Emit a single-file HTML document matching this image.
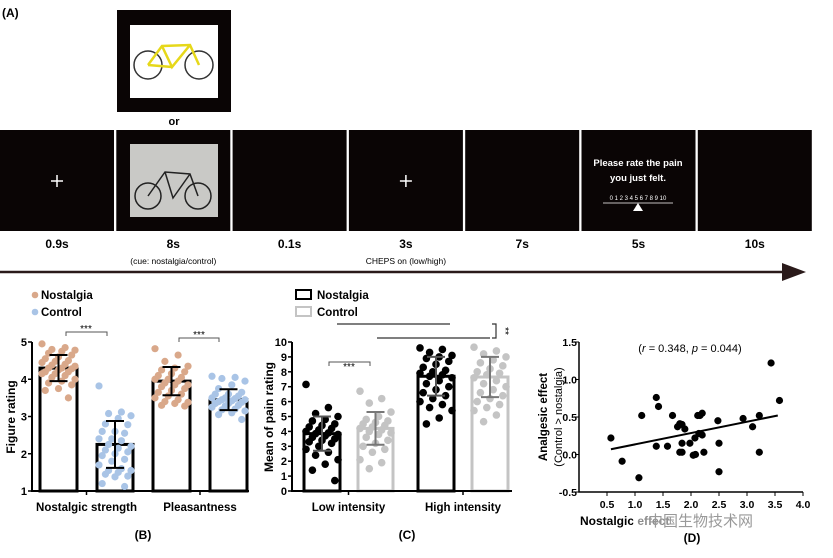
<!DOCTYPE html>
<html><head><meta charset="utf-8"><style>
body{margin:0;background:#fff;}
svg{display:block;font-family:"Liberation Sans","Noto Sans CJK SC",sans-serif;}
</style></head><body>
<svg width="833" height="558" viewBox="0 0 833 558">
<g id="panelA">
<text x="2" y="17" font-size="12" font-weight="bold">(A)</text>
<rect x="117" y="10" width="114" height="102" fill="#0a0505"/>
<rect x="130" y="25" width="88" height="73" fill="#fff"/>
<g stroke="#333" stroke-width="1.5" fill="none"><circle cx="148" cy="65" r="14"/><circle cx="199" cy="65" r="14"/></g>
<g stroke="#e6d81a" stroke-width="2.5" fill="none"><path d="M148 65 L162 46 L190 45 L199 65 M162 46 L172 67 L190 45 M172 67 L148 65"/></g>
<text x="174" y="125" font-size="11" font-weight="bold" text-anchor="middle">or</text>
<g id="frames"></g>
<g id="arrow"><line x1="0" y1="272" x2="790" y2="272" stroke="#2a1a1a" stroke-width="2.5"/><path d="M782 263 L806 272 L782 281 Z" fill="#2a1a1a"/></g>
</g>
<g id="panelB"></g>
<g id="panelC"></g>
<g id="panelD"></g>
</svg>
<script>
const NS="http://www.w3.org/2000/svg";
function mk(p,t,a,txt){const e=document.createElementNS(NS,t);for(const k in a)e.setAttribute(k,a[k]);if(txt!==undefined)e.textContent=txt;p.appendChild(e);return e;}
const frameTimes=["0.9s","8s","0.1s","3s","7s","5s","10s"];
const frameSubs=["","(cue: nostalgia/control)","","CHEPS on (low/high)","","",""];
const fr=document.getElementById('frames');
frameTimes.forEach((t,i)=>{
 const x=i*116.3;
 const r=mk(fr,'rect',{x:x,y:130,width:114,height:101,fill:'#0a0505'});
 
 
 const tx=mk(fr,'text',{x:x+57,y:248,'font-size':12,'font-weight':'bold','text-anchor':'middle'},t);
 
 
 if(frameSubs[i]){const s=mk(fr,'text',{x:x+57,y:264,'font-size':8.5,'text-anchor':'middle'},frameSubs[i]);
 
 }
});
[0,3].forEach(i=>{const x=i*116.3+57;mk(fr,'path',{d:`M${x-6} 181 H${x+6} M${x} 175 V187`,stroke:'#fff','stroke-width':1.5});});
mk(fr,'rect',{x:130,y:144,width:88,height:73,fill:'#c9c9c6'});
mk(fr,'g',{stroke:'#222','stroke-width':1.5,fill:'none'}).innerHTML='<circle cx="148" cy="196" r="13"/><circle cx="198" cy="196" r="13"/><path d="M148 196 L165 172 L190 174 L198 196 M165 172 L173 198 L190 174"/>';
mk(fr,'text',{x:638,y:166,'font-size':9.5,'font-weight':'bold',fill:'#fff','text-anchor':'middle'},'Please rate the pain');
mk(fr,'text',{x:638,y:181,'font-size':9.5,'font-weight':'bold',fill:'#fff','text-anchor':'middle'},'you just felt.');
mk(fr,'text',{x:638,y:200,'font-size':6,fill:'#fff','text-anchor':'middle'},'0 1 2 3 4 5 6 7 8 9 10');
mk(fr,'line',{x1:603,y1:203,x2:673,y2:203,stroke:'#fff','stroke-width':0.8});
mk(fr,'path',{d:'M638 203 L643 211 L633 211 Z',fill:'#fff'});

const bCats=["Nostalgic strength","Pleasantness"];
const bMeans=[4.3,2.25,3.95,3.45];
const bSD=[0.35,0.63,0.38,0.28];
const bPts0=[4.95,4.85,4.8,4.78,4.75,4.7,4.65,4.6,4.55,4.5,4.48,4.45,4.4,4.38,4.35,4.3,4.3,4.28,4.25,4.2,4.2,4.15,4.15,4.1,4.05,4.0,3.95,3.9,3.85,3.75,3.7,3.5];
const bPts1=[3.82,3.12,3.08,3.02,2.95,2.8,2.78,2.6,2.6,2.55,2.4,2.4,2.35,2.25,2.2,2.15,2.1,2.05,2.0,1.95,1.85,1.8,1.7,1.6,1.55,1.55,1.5,1.45,1.4,1.38,1.2,1.12];
const bPts2=[4.82,4.65,4.48,4.35,4.3,4.25,4.2,4.15,4.1,4.05,4.0,4.0,3.95,3.9,3.85,3.85,3.8,3.75,3.7,3.65,3.6,3.55,3.5,3.45,3.4,3.38,3.35,3.3,3.28];
const bPts3=[4.08,4.05,4.02,3.95,3.85,3.75,3.65,3.6,3.6,3.55,3.5,3.5,3.48,3.45,3.45,3.42,3.4,3.38,3.35,3.35,3.3,3.28,3.25,3.2,3.18,3.15,3.1,3.05,2.92];
const bYTicks=[1,2,3,4,5];
const cCats=["Low intensity","High intensity"];
const cMeans=[3.85,4.2,7.7,7.65];
const cSD=[1.15,1.1,1.3,1.35];
const cPts0=[7.15,5.6,5.2,5.0,4.8,4.7,4.5,4.4,4.3,4.2,4.1,4.0,3.9,3.85,3.8,3.7,3.6,3.5,3.4,3.3,3.2,3.0,2.8,2.6,2.4,2.1,1.8,1.4,0.7];
const cPts1=[6.7,6.2,5.9,5.3,5.0,4.8,4.7,4.6,4.5,4.4,4.3,4.2,4.1,4.0,3.9,3.8,3.6,3.4,3.2,3.0,2.8,2.6,2.1,1.9,1.5];
const cPts2=[9.6,9.5,9.3,9.1,9.0,8.9,8.7,8.5,8.3,8.1,8.0,7.9,7.8,7.7,7.6,7.4,7.2,7.0,6.8,6.6,6.4,6.2,6.0,5.8,5.6,5.4,4.9,4.5];
const cPts3=[9.65,9.4,9.2,9.0,8.8,8.6,8.4,8.2,8.0,7.9,7.8,7.6,7.4,7.2,7.0,6.8,6.6,6.4,6.2,6.0,5.8,5.6,5.4,5.1,4.65];
const cYTicks=[0,1,2,3,4,5,6,7,8,9,10];

function barPanel(g,o){
 const y=v=>o.y0-(v-o.vmin)/(o.vmax-o.vmin)*(o.y0-o.y1);
 o.pts.forEach((pts,i)=>{
  const [bx,bw]=o.bars[i];const cx=bx+bw/2;
  const rb=mk(g,'rect',{x:bx,y:y(o.means[i]),width:bw,height:o.y0-y(o.means[i]),fill:'#fff',stroke:o.barStroke[i],'stroke-width':3});
  
  
  pts.forEach((v,j)=>{
   const off=((j*7)%11-5)/5*(bw/2-2);
   const c=mk(g,'circle',{cx:cx+off,cy:y(v),r:o.r,fill:o.dotFill[i]});
   
   
  });
  const hi=y(o.means[i]+o.sd[i]),lo=y(o.means[i]-o.sd[i]);
  const eb=mk(g,'path',{d:`M${cx} ${hi} V${lo} M${cx-9} ${hi} H${cx+9} M${cx-9} ${lo} H${cx+9}`,stroke:o.errStroke[i],'stroke-width':2,fill:'none'});
  
  
 });
 mk(g,'path',{d:`M${o.ax} ${o.y1} V${o.y0} H${o.axEnd}`,stroke:'#000','stroke-width':2,fill:'none'});
 o.ticks.forEach(t=>{mk(g,'line',{x1:o.ax-4,x2:o.ax,y1:y(t),y2:y(t),stroke:'#000','stroke-width':1.5});
  const tl=mk(g,'text',{x:o.ax-5,y:y(t)+4,'font-size':11,'font-weight':'bold','text-anchor':'end'},t);
  
  });
 o.cats.forEach((c,k)=>{const cx=(o.bars[2*k][0]+o.bars[2*k+1][0]+o.bars[2*k+1][1])/2;
  mk(g,'line',{x1:cx,x2:cx,y1:o.y0,y2:o.y0+4,stroke:'#000','stroke-width':1.5});
  const tl=mk(g,'text',{x:cx,y:o.y0+20,'font-size':11.5,'font-weight':'bold','text-anchor':'middle'},c);
  
  });
 return y;
}
const gB=document.getElementById('panelB');
barPanel(gB,{y0:491,y1:342,vmin:1,vmax:5,ax:32,axEnd:249,bars:[[40,37],[97,36],[153,37],[210,37]],means:bMeans,sd:bSD,pts:[bPts0,bPts1,bPts2,bPts3],
 barStroke:['#000','#000','#000','#000'],dotFill:['#d9a88a','#a9c4e6','#d9a88a','#a9c4e6'],errStroke:['#000','#000','#000','#000'],r:3.6,ticks:bYTicks,cats:bCats});
mk(gB,'text',{x:15,y:417,'font-size':12,'font-weight':'bold','text-anchor':'middle',transform:'rotate(-90 15 417)'},'Figure rating');
mk(gB,'path',{d:'M66 336 V332 H107 V336 M179 342 V338 H219 V342',stroke:'#555','stroke-width':1,fill:'none'});
mk(gB,'text',{x:86,y:332,'font-size':10,'text-anchor':'middle'},'***');
mk(gB,'text',{x:199,y:338,'font-size':10,'text-anchor':'middle'},'***');
mk(gB,'circle',{cx:35,cy:295,r:3.3,fill:'#d9a88a'});mk(gB,'circle',{cx:35,cy:312,r:3.3,fill:'#a9c4e6'});
mk(gB,'text',{x:41,y:299,'font-size':11.5,'font-weight':'bold'},'Nostalgia');
mk(gB,'text',{x:41,y:316,'font-size':11.5,'font-weight':'bold'},'Control');
mk(gB,'text',{x:143,y:539,'font-size':12,'font-weight':'bold','text-anchor':'middle'},'(B)');

const gC=document.getElementById('panelC');
barPanel(gC,{y0:491,y1:342,vmin:0,vmax:10,ax:292,axEnd:512,bars:[[304,36],[358,35],[418,36],[472,36]],means:cMeans,sd:cSD,pts:[cPts0,cPts1,cPts2,cPts3],
 barStroke:['#000','#c4c4c4','#000','#c4c4c4'],dotFill:['#000','#c4c4c4','#000','#c4c4c4'],errStroke:['#555','#777','#555','#777'],r:3.8,ticks:cYTicks,cats:cCats});
mk(gC,'text',{x:273,y:417,'font-size':12,'font-weight':'bold','text-anchor':'middle',transform:'rotate(-90 273 417)'},'Mean of pain rating');
mk(gC,'path',{d:'M329 366 V362 H370 V366',stroke:'#555','stroke-width':1,fill:'none'});
mk(gC,'text',{x:349,y:370,'font-size':10,'text-anchor':'middle'},'***');
mk(gC,'path',{d:'M337 324 H450 M377 338 H490 M492 324 H496 V338 H492',stroke:'#333','stroke-width':1.2,fill:'none'});
mk(gC,'text',{x:502,y:331,'font-size':10,'text-anchor':'middle',transform:'rotate(90 502 331)'},'**');
mk(gC,'rect',{x:296,y:290,width:15,height:9,fill:'none',stroke:'#000','stroke-width':2});
mk(gC,'rect',{x:296,y:307,width:15,height:9,fill:'none',stroke:'#c4c4c4','stroke-width':2});
mk(gC,'text',{x:317,y:299,'font-size':11.5,'font-weight':'bold'},'Nostalgia');
mk(gC,'text',{x:317,y:316,'font-size':11.5,'font-weight':'bold'},'Control');
mk(gC,'text',{x:407,y:539,'font-size':12,'font-weight':'bold','text-anchor':'middle'},'(C)');

const dX=[0.57,0.77,1.07,1.12,1.38,1.42,1.38,1.58,1.67,1.76,1.8,1.84,1.8,1.84,1.84,1.89,1.98,2.04,2.08,2.07,2.12,2.16,2.2,2.14,2.2,2.23,2.48,2.5,2.5,2.93,3.1,3.22,3.22,3.43,3.58];
const dY=[0.22,-0.09,-0.31,0.52,0.76,0.64,0.11,0.11,0.52,0.37,0.41,0.4,0.03,0.03,0.15,0.34,0.15,-0.01,0,0.22,0.52,0.52,0.55,0.28,0.26,0.03,0.45,0.15,-0.23,0.48,0.37,0.52,0.03,1.22,0.72];
const dFit=[[0.57,0.07],[3.55,0.52]];
const dXTicks=[0.5,1.0,1.5,2.0,2.5,3.0,3.5,4.0];
const dYTicks=[-0.5,0.0,0.5,1.0,1.5];
const gD=document.getElementById('panelD');
const dx=v=>579+v*56, dy=v=>492-(v+0.5)*75;
mk(gD,'path',{d:`M579 342 V492 H803`,stroke:'#000','stroke-width':1.5,fill:'none'});
dYTicks.forEach(t=>{mk(gD,'line',{x1:575,x2:579,y1:dy(t),y2:dy(t),stroke:'#000'});
 const tl=mk(gD,'text',{x:577,y:dy(t)+4,'font-size':10.5,'font-weight':'bold','text-anchor':'end'},t.toFixed(1));
 
 });
dXTicks.forEach(t=>{mk(gD,'line',{x1:dx(t),x2:dx(t),y1:492,y2:496,stroke:'#000'});
 const tl=mk(gD,'text',{x:dx(t),y:508,'font-size':10.5,'font-weight':'bold','text-anchor':'middle'},t.toFixed(1));
 
 });
dX.forEach((v,i)=>{const c=mk(gD,'circle',{cx:dx(v),cy:dy(dY[i]),r:3.6,fill:'#000'});
 
 });
const fl=mk(gD,'line',{x1:dx(dFit[0][0]),y1:dy(dFit[0][1]),x2:dx(dFit[1][0]),y2:dy(dFit[1][1]),stroke:'#000','stroke-width':2});


mk(gD,'text',{x:690,y:352,'font-size':11,'text-anchor':'middle'}).innerHTML='(<tspan font-style="italic">r</tspan> = 0.348, <tspan font-style="italic">p</tspan> = 0.044)';
mk(gD,'text',{x:547,y:417,'font-size':11.5,'font-weight':'bold','text-anchor':'middle',transform:'rotate(-90 547 417)'},'Analgesic effect');
mk(gD,'text',{x:562,y:417,'font-size':11,'text-anchor':'middle',transform:'rotate(-90 562 417)'},'(Control > nostalgia)');
mk(gD,'text',{x:580,y:525,'font-size':12,'font-weight':'bold'},'Nostalgic effect');
mk(gD,'rect',{x:633,y:511,width:180,height:17,fill:'#fff','fill-opacity':0.55});
mk(gD,'text',{x:648,y:526,'font-size':15,fill:'#999'},'中国生物技术网');
mk(gD,'text',{x:692,y:542,'font-size':12,'font-weight':'bold','text-anchor':'middle'},'(D)');
</script>
</body></html>
